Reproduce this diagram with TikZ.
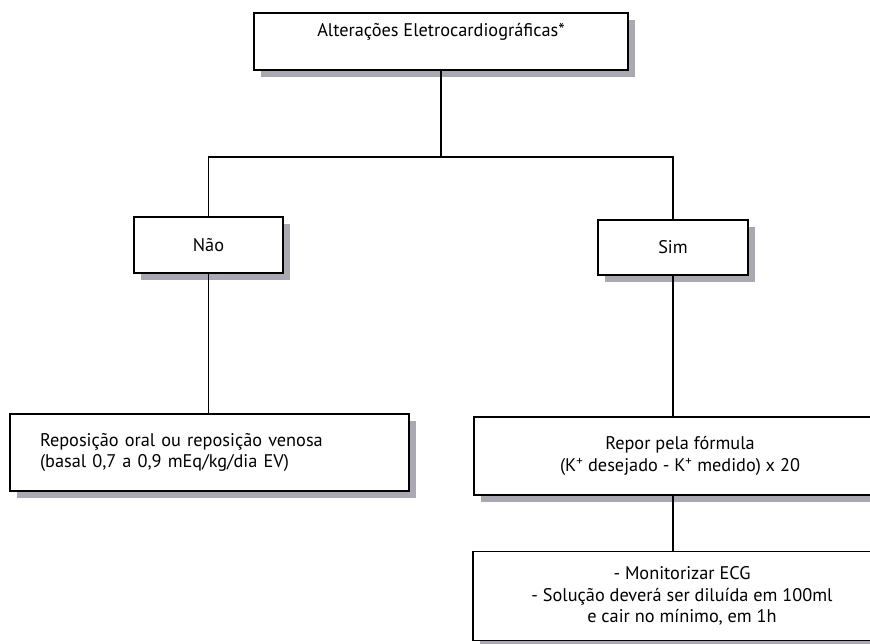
\documentclass[tikz,border=0pt]{standalone}
\usepackage{fontspec}
\setmainfont{PT Sans}
\usetikzlibrary{shadows}
\definecolor{shadowgray}{RGB}{172,168,178}
\newcommand{\boxfont}{\fontsize{18.3}{21.5}\selectfont}
\tikzset{
  x=1pt, y=-1pt,
  flowbox/.style={draw=black, line width=1.8pt, fill=white, inner sep=0pt,
    font=\boxfont,
    drop shadow={shadow xshift=7pt, shadow yshift=-7pt, fill=shadowgray, opacity=1}},
  link/.style={line width=1.5pt, draw=black}
}
\begin{document}
\begin{tikzpicture}
\useasboundingbox (0,0) rectangle (870,643);
\clip (0,0) rectangle (870,643);
% decision boxes
\node[flowbox, minimum width=374pt, minimum height=57pt,
  label={[font=\boxfont, yshift=9.5pt]center:Alterações Eletrocardiográficas*}]
  (top) at (441,41.5) {};
\node[flowbox, minimum width=149pt, minimum height=56pt] (nao) at (208.5,245) {Não};
\node[flowbox, minimum width=150pt, minimum height=55pt] (sim) at (673,247.5) {Sim};
% treatment boxes
\node[flowbox, minimum width=399pt, minimum height=77pt, text width=339pt, align=left]
  (oral) at (209.5,452.5) {Reposição oral ou reposição venosa\\(basal 0,7 a 0,9 mEq/kg/dia EV)};
\node[flowbox, minimum width=412pt, minimum height=78pt, align=center]
  (repor) at (680,456) {Repor pela fórmula\\(K\textsuperscript{+} desejado - K\textsuperscript{+} medido) x 20};
\node[flowbox, minimum width=418pt, minimum height=89pt, align=center]
  (mon) at (682,596) {- Monitorizar ECG\\- Solução deverá ser diluída em 100ml\\e cair no mínimo, em 1h};
% connectors
\coordinate (split) at (441,157);
\draw[link] (top.south) -- (split);
\draw[link] (split) -| (nao.north);
\draw[link] (split) -| (sim.north);
\draw[link] (nao.south) -- (nao.south |- oral.north);
\draw[link] (sim.south) -- (sim.south |- repor.north);
\draw[link] (repor.south -| sim.south) -- (sim.south |- mon.north);
\end{tikzpicture}
\end{document}
